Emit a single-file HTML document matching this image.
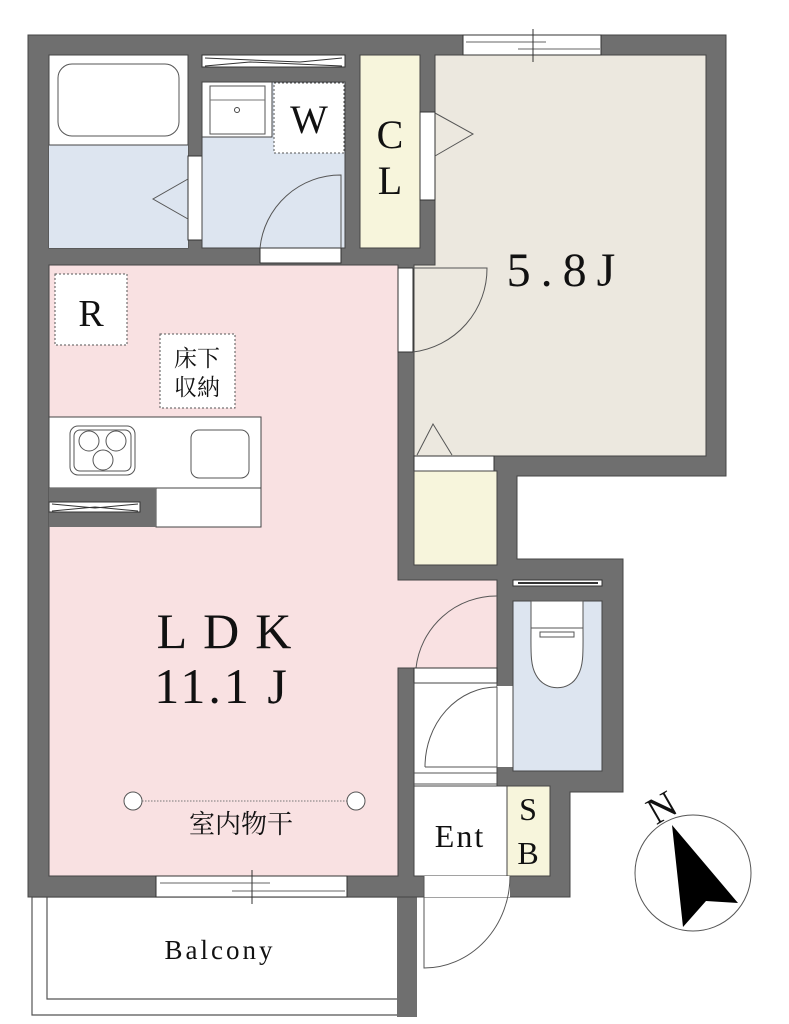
<!DOCTYPE html>
<html><head><meta charset="utf-8"><style>
html,body{margin:0;padding:0;background:#fff;}
svg{display:block;}
svg text{font-family:"Liberation Serif","Noto Serif CJK SC",serif;fill:#111;}
svg text.jp{font-family:"Noto Serif CJK SC","Noto Sans CJK JP",serif;}
</style></head><body>
<svg width="789" height="1024" viewBox="0 0 789 1024" xmlns="http://www.w3.org/2000/svg" font-family="Liberation Serif, serif">
<!-- balcony -->
<polyline points="397,897 32,897 32,1015 397,1015" fill="none" stroke="#555" stroke-width="1.2"/>
<polyline points="47,897 47,999 397,999" fill="none" stroke="#555" stroke-width="1.2"/>
<rect x="397" y="893" width="20" height="124" fill="#6f6f6f"/>
<!-- outer walls -->
<polygon points="28,35 726,35 726,476 517,476 517,559 623,559 623,792 570,792 570,897 28,897" fill="#6f6f6f" stroke="#444" stroke-width="1"/>
<!-- bath -->
<rect x="49" y="55" width="139" height="193" fill="#fff" stroke="#444" stroke-width="1"/>
<rect x="49" y="145" width="139" height="103" fill="#dde5f0"/>
<line x1="49" y1="145" x2="188" y2="145" stroke="#444"/>
<rect x="58" y="64" width="121" height="72" rx="14" fill="#fff" stroke="#555"/>
<rect x="188" y="156" width="14" height="84" fill="#fff" stroke="#333"/>
<polyline points="188,179 153,199 188,219" fill="none" stroke="#555"/>
<!-- washroom -->
<rect x="202" y="55" width="143" height="12" fill="#fff" stroke="#333"/>
<polyline points="205,58 300,62 342,58" fill="none" stroke="#333"/>
<polyline points="205,66 250,62 342,66" fill="none" stroke="#333"/>
<rect x="202" y="82" width="143" height="166" fill="#dde5f0" stroke="#444"/>
<rect x="202" y="82" width="70" height="55" fill="#fff" stroke="#444"/>
<rect x="210" y="86" width="55" height="48" fill="#fff" stroke="#555"/>
<line x1="210" y1="100" x2="265" y2="100" stroke="#777"/>
<circle cx="237" cy="110" r="2.5" fill="none" stroke="#444"/>
<rect x="274" y="83" width="70" height="70" fill="#fff" stroke="#555" stroke-dasharray="2,2"/>
<text x="309" y="133" font-size="40" text-anchor="middle">W</text>
<rect x="260" y="248" width="81" height="15" fill="#fff" stroke="#333"/>
<path d="M260,248 A81,81 0 0 1 341,175 L341,248" fill="none" stroke="#555"/>
<!-- CL -->
<rect x="360" y="55" width="60" height="193" fill="#f7f5dc" stroke="#444"/>
<text x="390" y="148" font-size="40" text-anchor="middle">C</text>
<text x="390" y="194" font-size="40" text-anchor="middle">L</text>
<!-- 5.8J -->
<polygon points="435,55 706,55 706,456 414,456 414,265 435,265" fill="#ece8df" stroke="#444"/>
<rect x="463" y="35" width="138" height="20" fill="#fff" stroke="#333"/>
<line x1="466" y1="42" x2="546" y2="42" stroke="#666"/>
<line x1="518" y1="49" x2="600" y2="49" stroke="#666"/>
<line x1="533" y1="29" x2="533" y2="62" stroke="#333"/>
<rect x="420" y="112" width="15" height="88" fill="#fff" stroke="#333"/>
<polyline points="435,113 473,134 435,156" fill="none" stroke="#555"/>
<text x="566" y="286" font-size="48" text-anchor="middle" letter-spacing="10">5.8J</text>
<!-- LDK -->
<polygon points="49,265 398,265 398,580 497,580 497,668 398,668 398,876 49,876" fill="#f9e1e2" stroke="#444"/>
<rect x="398" y="268" width="15" height="84" fill="#fff" stroke="#333"/>
<path d="M413,352 A84,84 0 0 0 487,268 L413,268" fill="none" stroke="#555"/>
<rect x="55" y="274" width="72" height="71" fill="#fff" stroke="#555" stroke-dasharray="2,2"/>
<text x="91" y="326" font-size="38" text-anchor="middle">R</text>
<rect x="160" y="334" width="75" height="74" fill="#fff" stroke="#555" stroke-dasharray="2,2"/>
<text class="jp" x="197" y="366" font-size="23" text-anchor="middle">床下</text>
<text class="jp" x="197" y="395" font-size="23" text-anchor="middle">収納</text>
<!-- kitchen -->
<rect x="49" y="417" width="212" height="71" fill="#fff" stroke="#444"/>
<rect x="156" y="488" width="105" height="39" fill="#fff" stroke="#444"/>
<rect x="49" y="488" width="107" height="39" fill="#6f6f6f"/>
<rect x="49" y="502" width="91" height="10" fill="#fff" stroke="#333"/>
<polyline points="52,504 95,508 138,504" fill="none" stroke="#333"/>
<polyline points="52,511 95,507 138,511" fill="none" stroke="#333"/>
<rect x="70" y="426" width="65" height="49" rx="8" fill="#fff" stroke="#555"/>
<rect x="74" y="430" width="57" height="41" rx="6" fill="none" stroke="#555"/>
<circle cx="89" cy="441" r="10" fill="none" stroke="#555"/>
<circle cx="116" cy="441" r="10" fill="none" stroke="#555"/>
<circle cx="103" cy="460" r="10" fill="none" stroke="#555"/>
<rect x="191" y="430" width="58" height="48" rx="8" fill="#fff" stroke="#555"/>
<text x="232" y="648" font-size="50" text-anchor="middle" letter-spacing="16">LDK</text>
<text x="222" y="703" font-size="50" text-anchor="middle" letter-spacing="3">11.1 J</text>
<line x1="142" y1="801" x2="347" y2="801" stroke="#777" stroke-dasharray="1.5,1.5"/>
<circle cx="133" cy="801" r="9" fill="#fff" stroke="#555"/>
<circle cx="356" cy="801" r="9" fill="#fff" stroke="#555"/>
<text class="jp" x="241" y="833" font-size="26" text-anchor="middle">室内物干</text>
<rect x="156" y="876" width="191" height="21" fill="#fff" stroke="#333"/>
<line x1="160" y1="883" x2="270" y2="883" stroke="#666"/>
<line x1="232" y1="891" x2="345" y2="891" stroke="#666"/>
<line x1="252" y1="870" x2="252" y2="904" stroke="#333"/>
<text x="220" y="959" font-size="27" text-anchor="middle" letter-spacing="3">Balcony</text>
<!-- closet lower -->
<rect x="414" y="456" width="80" height="15" fill="#fff" stroke="#333"/>
<rect x="414" y="471" width="83" height="94" fill="#f7f5dc" stroke="#444"/>
<polyline points="417,455 433,424 452,455" fill="none" stroke="#555"/>
<path d="M416,668 A81,81 0 0 1 497,596" fill="none" stroke="#555"/>
<!-- hallway & entrance -->
<rect x="414" y="668" width="83" height="15" fill="#fff" stroke="#333"/>
<rect x="414" y="683" width="83" height="103" fill="#fff" stroke="#444"/>
<rect x="497" y="686" width="16" height="81" fill="#fff"/>
<path d="M425,767 A72,80 0 0 1 497,687 L497,767 L425,767" fill="none" stroke="#555"/>
<line x1="414" y1="773" x2="497" y2="773" stroke="#555"/>
<line x1="414" y1="784" x2="497" y2="784" stroke="#555"/>
<rect x="414" y="786" width="93" height="90" fill="#fff" stroke="#444"/>
<rect x="507" y="786" width="43" height="90" fill="#f7f5dc" stroke="#444"/>
<text x="460" y="847" font-size="32" text-anchor="middle" letter-spacing="2">Ent</text>
<text x="528" y="820" font-size="32" text-anchor="middle">S</text>
<text x="528" y="864" font-size="32" text-anchor="middle">B</text>
<rect x="424" y="876" width="86" height="21" fill="#fff"/>
<path d="M424,876 L424,968 A86,92 0 0 0 510,876" fill="none" stroke="#555"/>
<!-- toilet -->
<rect x="513" y="580" width="89" height="6" fill="#fff" stroke="#333"/>
<line x1="518" y1="583" x2="598" y2="583" stroke="#333" stroke-width="2"/>
<rect x="513" y="601" width="89" height="170" fill="#dde5f0" stroke="#444"/>
<path d="M531,601 L583,601 L583,630 L531,630 Z" fill="#fff" stroke="#555"/>
<path d="M531,628 C531,650 530,665 536,675 C545,692 570,692 578,675 C584,665 583,650 583,628 Z" fill="#fff" stroke="#555"/>
<rect x="540" y="632" width="34" height="5" fill="#fff" stroke="#555"/>
<!-- compass -->
<circle cx="693" cy="873" r="58" fill="#fff" stroke="#555"/>
<polygon points="672,825 738,903 706,901 683,927" fill="#000"/>
<text x="662" y="820" font-size="38" text-anchor="middle" transform="rotate(-30 662 808)">N</text>
</svg>
</body></html>
